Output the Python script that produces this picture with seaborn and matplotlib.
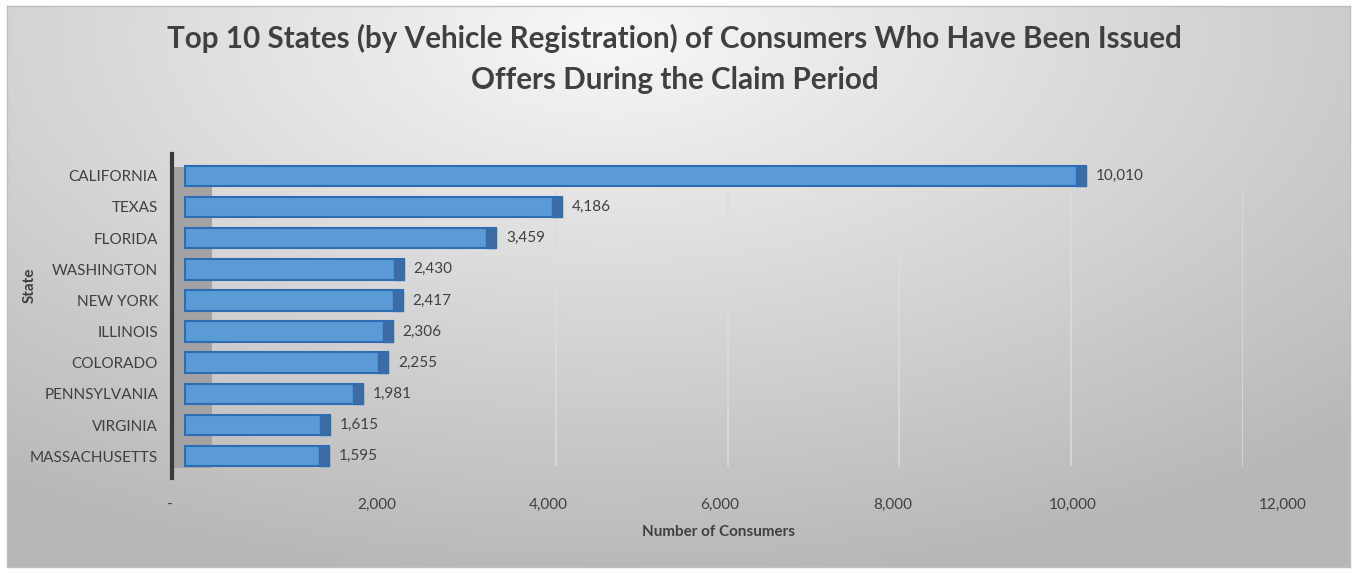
import numpy as np
import pandas as pd
import matplotlib
matplotlib.use("Agg")
import matplotlib.pyplot as plt
import matplotlib.transforms as mtransforms
import seaborn as sns

states = ["CALIFORNIA", "TEXAS", "FLORIDA", "WASHINGTON", "NEW YORK", "ILLINOIS",
          "COLORADO", "PENNSYLVANIA", "VIRGINIA", "MASSACHUSETTS"]
consumers = [10010, 4186, 3459, 2430, 2417, 2306, 2255, 1981, 1615, 1595]
xticks = [0, 2000, 4000, 6000, 8000, 10000, 12000]
xtick_labels = ["-", "2,000", "4,000", "6,000", "8,000", "10,000", "12,000"]
title = "Top 10 States (by Vehicle Registration) of Consumers Who Have Been Issued\nOffers During the Claim Period"

df = pd.DataFrame({"State": states, "Consumers": consumers})

sns.set_theme(style="white")
plt.rcParams["font.family"] = ["Lato", "DejaVu Sans"]
TXT = "#404040"

W, H = 1357, 573
fig = plt.figure(figsize=(W / 100, H / 100), dpi=100)
fig.patch.set_facecolor("white")

# gradient background panel
bg = fig.add_axes([7 / W, 6 / H, 1343 / W, 561 / H])
yy, xx = np.mgrid[0:1:200j, 0:1:400j]
d = np.sqrt(((xx - 0.45) / 0.9) ** 2 + ((yy - 0.05) / 1.1) ** 2)
shade = np.clip(0.97 - 0.28 * d, 0.72, 0.97)
bg.imshow(np.dstack([shade] * 3), aspect="auto", extent=[0, 1, 0, 1], origin="upper")
bg.set_xticks([]); bg.set_yticks([])
for s in bg.spines.values():
    s.set_color("#bfbfbf"); s.set_linewidth(1)
bg.set_zorder(0)

# back plane (perspective: gridlines sit on the back wall)
back_l, back_r = 212, 1243
back = fig.add_axes([back_l / W, 1 - 466 / H, (back_r - back_l) / W, (466 - 160) / H])
back.set_xlim(0, 12000); back.set_ylim(0, 1)
back.patch.set_visible(False)
back.set_axis_off()
back.set_zorder(0.5)
for t in xticks[2:]:
    back.axvline(t, ymin=0.0, ymax=0.9, color="#dcdcdc", lw=1.1)

left_px, zero_px, right_px = 172, 185, 1265
scale = (right_px - zero_px) / 12000
xmin = -(zero_px - left_px) / scale
ax = fig.add_axes([left_px / W, 1 - 478 / H, (right_px - left_px) / W, (478 - 154) / H])
ax.set_facecolor("none")
ax.set_zorder(1)

# side wall
ax.axvspan(xmin, 300, ymin=0.03, ymax=0.96, color="#a3a3a3", zorder=0, lw=0)

bw = 0.66
sns.barplot(data=df, x="Consumers", y="State", orient="h", color="#5b9bd5",
            edgecolor="#2e6db4", linewidth=1.5, width=bw, saturation=1, ax=ax, zorder=2)
# 3D end cap
cap = 110
ax.barh(np.arange(len(states)), [cap] * len(states), left=np.array(consumers) - cap,
        height=bw, color="#3d6ca4", edgecolor="#2e6db4", linewidth=1, zorder=3)

for i, v in enumerate(consumers):
    ax.text(v + 110, i, f"{v:,}", va="center", ha="left", fontsize=11, color=TXT)

ax.set_xlim(xmin, 12000)
ax.set_ylim(len(states) - 0.3, -0.7)
ax.set_xticks(xticks)
ax.set_xticklabels(xtick_labels, fontsize=11, color=TXT)
ax.tick_params(axis="x", length=0, pad=14)
ax.tick_params(axis="y", length=0, pad=10, labelsize=11, labelcolor=TXT)
# perspective shift of tick labels (pixels)
shifts = [-15, 12, 3, -5, -12, -12, 18]
for lab, dx in zip(ax.get_xticklabels(), shifts):
    lab.set_transform(lab.get_transform() + mtransforms.ScaledTranslation(dx / 100, 0, fig.dpi_scale_trans))
for s in ["top", "right", "bottom"]:
    ax.spines[s].set_visible(False)
ax.spines["left"].set_color("#3a3a3a")
ax.spines["left"].set_linewidth(3)
ax.set_xlabel("Number of Consumers", fontsize=11, fontweight="bold", color=TXT, labelpad=10)
ax.set_ylabel("")
fig.text(30 / W, 1 - 285 / H, "State", rotation=90, ha="center", va="center",
         fontsize=11, fontweight="bold", color=TXT)

fig.text(0.497, 1 - 59 / H, title, ha="center", va="center", fontsize=21.3,
         fontweight="bold", color=TXT, linespacing=1.55)

fig.savefig("out.png", dpi=100)
